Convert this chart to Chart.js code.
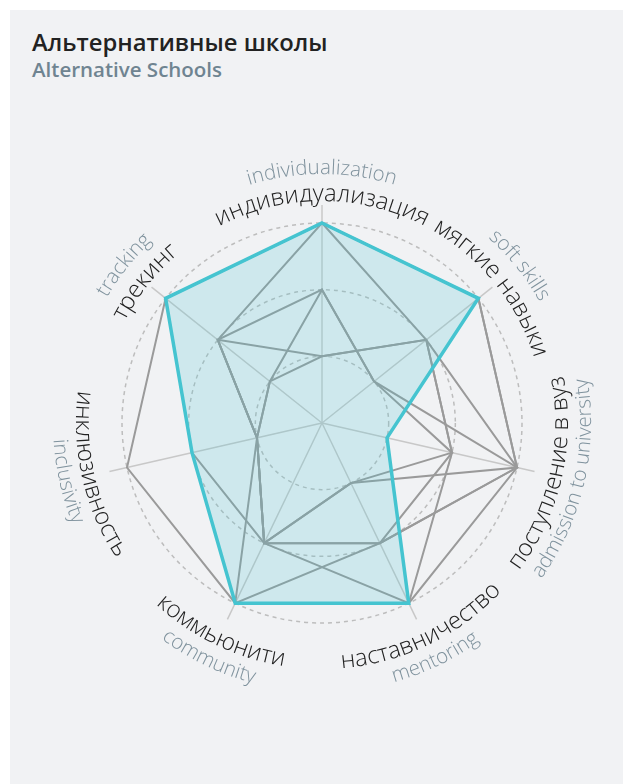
<!DOCTYPE html>
<html lang="ru">
<head>
<meta charset="utf-8">
<title>Альтернативные школы</title>
<script src="https://cdn.jsdelivr.net/npm/chart.js@4.4.0/dist/chart.umd.min.js"></script>
<style>
  html, body { margin: 0; padding: 0; background: #fff; }
  body { width: 633px; height: 784px; position: relative; overflow: hidden; font-family: 'Open Sans', sans-serif; }
  .card { position: absolute; left: 10px; top: 10px; width: 613px; height: 774px; background: #f1f2f4; }
  .title { position: absolute; left: 32px; top: 26px; margin: 0; font-size: 23.8px; line-height: 32px; font-weight: 600; color: #222; }
  .subtitle { position: absolute; left: 32px; top: 56px; margin: 0; font-size: 20.5px; line-height: 27px; font-weight: 600; color: #6f8491; }
  canvas { position: absolute; left: 0; top: 0; }
</style>
</head>
<body>
<div class="card"></div>
<h1 class="title">Альтернативные школы</h1>
<div class="subtitle">Alternative Schools</div>
<canvas id="radar" width="633" height="784"></canvas>
<script>
// подписи осей
const labelsRu = ['индивидуализация', 'мягкие навыки', 'поступление в вуз', 'наставничество', 'коммьюнити', 'инклюзивность', 'трекинг'];
const labelsEn = ['individualization', 'soft skills', 'admission to university', 'mentoring', 'community', 'inclusivity', 'tracking'];

// выделенная школа
const highlighted = [3, 3, 1, 3, 3, 2, 3];

// остальные школы (серые)
const schoolA = [3, 3, 3, 3, 3, 3, 3];
const schoolB = [3, 3, 3, 1, 2, 2, 3];
const schoolC = [3, 2, 3, 2, 2, 1, 2];
const schoolD = [2, 1, 2, 1, 2, 1, 2];
const schoolE = [1, 2, 2, 2, 3, 1, 2];
const schoolF = [2, 1, 3, 2, 2, 1, 1];
const schoolG = [1, 2, 2, 3, 2, 1, 1];
const otherSchools = [schoolA, schoolB, schoolC, schoolD, schoolE, schoolF, schoolG];

// текст по дуге
function arcText(ctx, text, cx, cy, r, angle, flip) {
    const total = ctx.measureText(text).width;
    const dir = flip ? -1 : 1;
    const start = angle - dir * total / (2 * r);
    for (let k = 0; k < text.length; k++) {
        const before = ctx.measureText(text.slice(0, k)).width;
        const w = ctx.measureText(text[k]).width;
        const a = start + dir * (before + w / 2) / r;
        ctx.save();
        ctx.translate(cx + r * Math.sin(a), cy - r * Math.cos(a));
        ctx.rotate(flip ? a + Math.PI : a);
        ctx.fillText(text[k], 0, 0);
        ctx.restore();
    }
}

const arcLabels = {
    id: 'arcLabels',
    afterDraw(chart) {
        const scale = chart.scales.r;
        const ctx = chart.ctx;
        ctx.save();
        ctx.textAlign = 'center';
        ctx.textBaseline = 'alphabetic';
        labelsRu.forEach((ru, i) => {
            const angle = scale.getIndexAngle(i);
            const deg = angle * 180 / Math.PI;
            const flip = deg > 90 && deg < 270;
            ctx.font = '300 24px "Open Sans"';
            ctx.fillStyle = '#222';
            arcText(ctx, ru, scale.xCenter, scale.yCenter, flip ? 246 : 222, angle, flip);
            ctx.font = '300 20.5px "Open Sans"';
            ctx.fillStyle = '#7f929d';
            arcText(ctx, labelsEn[i], scale.xCenter, scale.yCenter, flip ? 269 : 249, angle, flip);
        });
        ctx.restore();
    }
};

const datasets = [
    {
        data: highlighted,
        borderColor: '#45c4d0',
        backgroundColor: 'rgba(69, 196, 208, 0.2)',
        borderWidth: 3.5,
        fill: true
    }
].concat(otherSchools.map(d => ({
    data: d,
    borderColor: '#9a9a9a',
    backgroundColor: 'rgba(0,0,0,0)',
    borderWidth: 2,
    fill: false
})));

new Chart(document.getElementById('radar').getContext('2d'), {
    type: 'radar',
    data: {
        labels: labelsRu,
        datasets: datasets
    },
    options: {
        responsive: false,
        animation: false,
        layout: { padding: { left: 104, top: 205, right: 93, bottom: 143 } },
        elements: {
            point: { radius: 0, hoverRadius: 0 },
            line: { tension: 0 }
        },
        plugins: {
            legend: { display: false },
            tooltip: { enabled: false }
        },
        scales: {
            r: {
                min: 0,
                max: 3.27,
                ticks: { display: false, stepSize: 1, includeBounds: false },
                pointLabels: { display: false },
                grid: { circular: true, color: '#bdbdbd', lineWidth: 1.5 },
                border: { dash: [4, 4] },
                angleLines: { color: '#c8c8c8', lineWidth: 1.5 }
            }
        }
    },
    plugins: [arcLabels]
});
</script>
</body>
</html>
